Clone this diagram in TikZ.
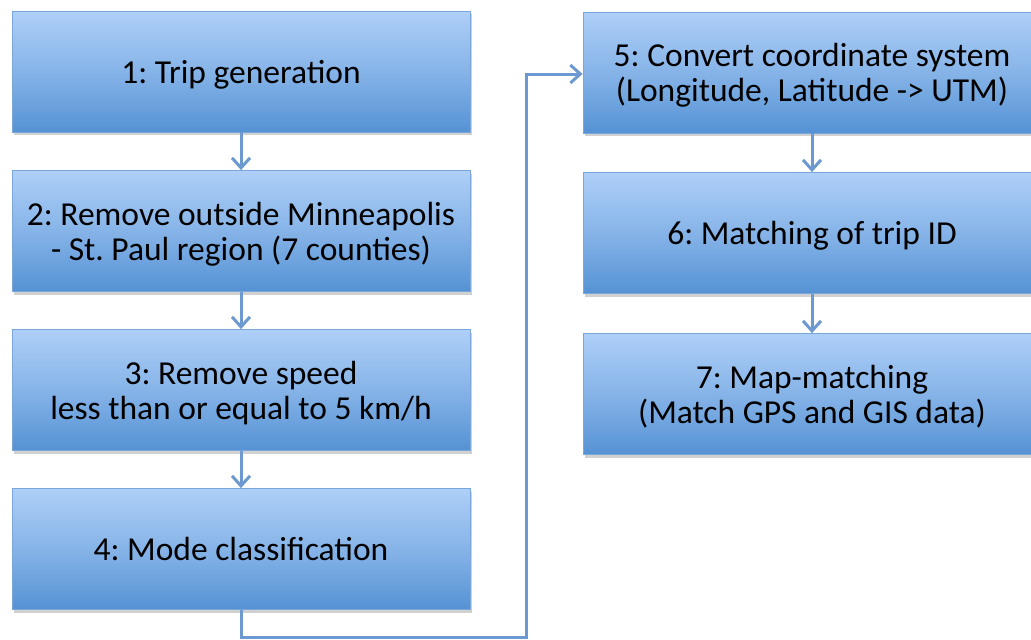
\documentclass[tikz,border=0pt]{standalone}
\usepackage{fontspec}
\setmainfont{Carlito}
\usetikzlibrary{arrows.meta,shadows,positioning}
\definecolor{boxtop}{HTML}{AECFF8}
\definecolor{boxbot}{HTML}{5592D4}
\definecolor{boxline}{HTML}{7AA6DA}
\definecolor{linkcol}{HTML}{6C9AD0}
\tikzset{
  stepbox/.style={rectangle, draw=boxline, line width=0.8pt,
    top color=boxtop, bottom color=boxbot, middle color=boxtop!55!boxbot,
    minimum width=458pt, minimum height=121pt, align=center,
    text depth=0pt,
    font=\fontsize{33.5}{35}\selectfont\frenchspacing, text=black,
    drop shadow={shadow xshift=1.5pt, shadow yshift=-3pt, opacity=0.3, fill=black!60}},
  link/.style={draw=linkcol, line width=3pt,
    -{Straight Barb[length=10pt,width=18pt,line width=3pt]}}
}
\begin{document}
\begin{tikzpicture}[x=1pt,y=-1pt]
\useasboundingbox (0,0) rectangle (1031,640);
% left column
\node[stepbox] (s1) at (241,71.5) {1: Trip generation};
\node[stepbox] (s2) at (241,231) {2: Remove outside Minneapolis\\- St. Paul region (7 counties)};
\node[stepbox] (s3) at (241,390) {3: Remove speed\\less than or equal to 5 km/h};
\node[stepbox] (s4) at (241,549) {4: Mode classification};
% right column
\node[stepbox] (s5) at (812,72.5) {5: Convert coordinate system\\(Longitude, Latitude -> UTM)};
\node[stepbox] (s6) at (812,233) {6: Matching of trip ID};
\node[stepbox] (s7) at (812,394) {7: Map-matching\\(Match GPS and GIS data)};
% connectors
\draw[link] (s1) -- (s2);
\draw[link] (s2) -- (s3);
\draw[link] (s3) -- (s4);
\draw[link] (s5) -- (s6);
\draw[link] (s6) -- (s7);
\coordinate (c1) at (241,637.5);
\coordinate (c2) at (526,637.5);
\coordinate (c3) at (526,74);
\draw[link] (s4.south) -- (c1) -- (c2) -- (c3) -- (s5.west |- c3);
\end{tikzpicture}
\end{document}
